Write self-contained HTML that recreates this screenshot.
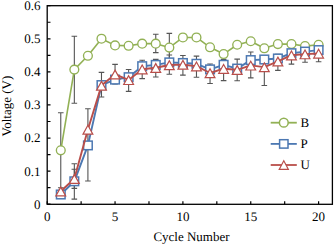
<!DOCTYPE html>
<html><head><meta charset="utf-8"><style>
html,body{margin:0;padding:0;background:#fff;}
body{width:334px;height:245px;overflow:hidden;font-family:"Liberation Serif",serif;}
svg{display:block;} text{text-rendering:geometricPrecision;}
</style></head><body>
<svg width="334" height="245" viewBox="0 0 334 245">
<rect x="0" y="0" width="334" height="245" fill="#fff"/>
<g font-family="Liberation Serif, serif" font-size="13" fill="#000">
<text x="40.5" y="208.60" text-anchor="end">0</text><text x="40.5" y="175.52" text-anchor="end">0.1</text><text x="40.5" y="142.44" text-anchor="end">0.2</text><text x="40.5" y="109.36" text-anchor="end">0.3</text><text x="40.5" y="76.28" text-anchor="end">0.4</text><text x="40.5" y="43.20" text-anchor="end">0.5</text><text x="40.5" y="10.12" text-anchor="end">0.6</text>
<text x="47.20" y="221" text-anchor="middle">0</text><text x="115.05" y="221" text-anchor="middle">5</text><text x="182.90" y="221" text-anchor="middle">10</text><text x="250.75" y="221" text-anchor="middle">15</text><text x="318.60" y="221" text-anchor="middle">20</text>
<text x="191.5" y="241.3" text-anchor="middle">Cycle Number</text>
<text transform="translate(11.2,106.1) rotate(-90)" text-anchor="middle">Voltage (V)</text>
</g>
<path d="M60.77,112.80 V187.80 M57.97,112.80 H63.57 M57.97,187.80 H63.57" stroke="#555555" stroke-width="1.1" fill="none"/><path d="M74.34,36.30 V103.30 M71.54,36.30 H77.14 M71.54,103.30 H77.14" stroke="#555555" stroke-width="1.1" fill="none"/><path d="M155.76,34.20 V52.60 M152.96,34.20 H158.56 M152.96,52.60 H158.56" stroke="#555555" stroke-width="1.1" fill="none"/><path d="M169.33,33.40 V61.80 M166.53,33.40 H172.13 M166.53,61.80 H172.13" stroke="#555555" stroke-width="1.1" fill="none"/><path d="M74.34,163.80 V199.10 M71.54,163.80 H77.14 M71.54,199.10 H77.14" stroke="#555555" stroke-width="1.1" fill="none"/><path d="M74.34,169.20 V188.40 M71.54,169.20 H77.14 M71.54,188.40 H77.14" stroke="#555555" stroke-width="1.1" fill="none"/><path d="M87.91,108.80 V181.00 M85.11,108.80 H90.71 M85.11,181.00 H90.71" stroke="#555555" stroke-width="1.1" fill="none"/><path d="M101.48,72.40 V97.00 M98.68,72.40 H104.28 M98.68,97.00 H104.28" stroke="#555555" stroke-width="1.1" fill="none"/><path d="M115.05,64.40 V84.00 M112.25,64.40 H117.85 M112.25,84.00 H117.85" stroke="#555555" stroke-width="1.1" fill="none"/><path d="M128.62,69.50 V91.40 M125.82,69.50 H131.42 M125.82,91.40 H131.42" stroke="#555555" stroke-width="1.1" fill="none"/><path d="M142.19,60.30 V78.60 M139.39,60.30 H144.99 M139.39,78.60 H144.99" stroke="#555555" stroke-width="1.1" fill="none"/><path d="M155.76,59.40 V77.00 M152.96,59.40 H158.56 M152.96,77.00 H158.56" stroke="#555555" stroke-width="1.1" fill="none"/><path d="M169.33,55.00 V74.20 M166.53,55.00 H172.13 M166.53,74.20 H172.13" stroke="#555555" stroke-width="1.1" fill="none"/><path d="M182.90,55.50 V75.10 M180.10,55.50 H185.70 M180.10,75.10 H185.70" stroke="#555555" stroke-width="1.1" fill="none"/><path d="M196.47,56.10 V77.20 M193.67,56.10 H199.27 M193.67,77.20 H199.27" stroke="#555555" stroke-width="1.1" fill="none"/><path d="M210.04,64.00 V83.50 M207.24,64.00 H212.84 M207.24,83.50 H212.84" stroke="#555555" stroke-width="1.1" fill="none"/><path d="M223.61,59.40 V80.60 M220.81,59.40 H226.41 M220.81,80.60 H226.41" stroke="#555555" stroke-width="1.1" fill="none"/><path d="M237.18,59.10 V80.80 M234.38,59.10 H239.98 M234.38,80.80 H239.98" stroke="#555555" stroke-width="1.1" fill="none"/><path d="M250.75,52.00 V77.90 M247.95,52.00 H253.55 M247.95,77.90 H253.55" stroke="#555555" stroke-width="1.1" fill="none"/><path d="M264.32,56.00 V85.50 M261.52,56.00 H267.12 M261.52,85.50 H267.12" stroke="#555555" stroke-width="1.1" fill="none"/><path d="M277.89,54.30 V70.40 M275.09,54.30 H280.69 M275.09,70.40 H280.69" stroke="#555555" stroke-width="1.1" fill="none"/><path d="M291.46,48.00 V64.10 M288.66,48.00 H294.26 M288.66,64.10 H294.26" stroke="#555555" stroke-width="1.1" fill="none"/><path d="M305.03,47.70 V62.30 M302.23,47.70 H307.83 M302.23,62.30 H307.83" stroke="#555555" stroke-width="1.1" fill="none"/><path d="M318.60,46.80 V61.70 M315.80,46.80 H321.40 M315.80,61.70 H321.40" stroke="#555555" stroke-width="1.1" fill="none"/>
<polyline points="60.77,150.30 74.34,69.60 87.91,55.80 101.48,38.70 115.05,45.40 128.62,45.80 142.19,43.65 155.76,43.65 169.33,47.60 182.90,37.45 196.47,37.45 210.04,47.30 223.61,54.05 237.18,44.75 250.75,41.25 264.32,48.30 277.89,44.10 291.46,44.00 305.03,46.10 318.60,44.80" fill="none" stroke="#92b155" stroke-width="1.6" stroke-linejoin="round"/>
<circle cx="60.77" cy="150.30" r="4.4" fill="#fff" stroke="#92b155" stroke-width="1.35"/><circle cx="74.34" cy="69.60" r="4.4" fill="#fff" stroke="#92b155" stroke-width="1.35"/><circle cx="87.91" cy="55.80" r="4.4" fill="#fff" stroke="#92b155" stroke-width="1.35"/><circle cx="101.48" cy="38.70" r="4.4" fill="#fff" stroke="#92b155" stroke-width="1.35"/><circle cx="115.05" cy="45.40" r="4.4" fill="#fff" stroke="#92b155" stroke-width="1.35"/><circle cx="128.62" cy="45.80" r="4.4" fill="#fff" stroke="#92b155" stroke-width="1.35"/><circle cx="142.19" cy="43.65" r="4.4" fill="#fff" stroke="#92b155" stroke-width="1.35"/><circle cx="155.76" cy="43.65" r="4.4" fill="#fff" stroke="#92b155" stroke-width="1.35"/><circle cx="169.33" cy="47.60" r="4.4" fill="#fff" stroke="#92b155" stroke-width="1.35"/><circle cx="182.90" cy="37.45" r="4.4" fill="#fff" stroke="#92b155" stroke-width="1.35"/><circle cx="196.47" cy="37.45" r="4.4" fill="#fff" stroke="#92b155" stroke-width="1.35"/><circle cx="210.04" cy="47.30" r="4.4" fill="#fff" stroke="#92b155" stroke-width="1.35"/><circle cx="223.61" cy="54.05" r="4.4" fill="#fff" stroke="#92b155" stroke-width="1.35"/><circle cx="237.18" cy="44.75" r="4.4" fill="#fff" stroke="#92b155" stroke-width="1.35"/><circle cx="250.75" cy="41.25" r="4.4" fill="#fff" stroke="#92b155" stroke-width="1.35"/><circle cx="264.32" cy="48.30" r="4.4" fill="#fff" stroke="#92b155" stroke-width="1.35"/><circle cx="277.89" cy="44.10" r="4.4" fill="#fff" stroke="#92b155" stroke-width="1.35"/><circle cx="291.46" cy="44.00" r="4.4" fill="#fff" stroke="#92b155" stroke-width="1.35"/><circle cx="305.03" cy="46.10" r="4.4" fill="#fff" stroke="#92b155" stroke-width="1.35"/><circle cx="318.60" cy="44.80" r="4.4" fill="#fff" stroke="#92b155" stroke-width="1.35"/>
<polyline points="60.77,194.50 74.34,181.30 87.91,145.40 101.48,85.10 115.05,79.60 128.62,77.20 142.19,66.20 155.76,64.90 169.33,62.40 182.90,63.00 196.47,63.80 210.04,69.40 223.61,64.80 237.18,68.60 250.75,60.10 264.32,59.50 277.89,58.50 291.46,53.20 305.03,51.60 318.60,50.10" fill="none" stroke="#4c78b2" stroke-width="1.9" stroke-linejoin="round"/>
<rect x="56.47" y="190.20" width="8.6" height="8.6" fill="#fff" stroke="#4c78b2" stroke-width="1.5"/><rect x="70.04" y="177.00" width="8.6" height="8.6" fill="#fff" stroke="#4c78b2" stroke-width="1.5"/><rect x="83.61" y="141.10" width="8.6" height="8.6" fill="#fff" stroke="#4c78b2" stroke-width="1.5"/><rect x="97.18" y="80.80" width="8.6" height="8.6" fill="#fff" stroke="#4c78b2" stroke-width="1.5"/><rect x="110.75" y="75.30" width="8.6" height="8.6" fill="#fff" stroke="#4c78b2" stroke-width="1.5"/><rect x="124.32" y="72.90" width="8.6" height="8.6" fill="#fff" stroke="#4c78b2" stroke-width="1.5"/><rect x="137.89" y="61.90" width="8.6" height="8.6" fill="#fff" stroke="#4c78b2" stroke-width="1.5"/><rect x="151.46" y="60.60" width="8.6" height="8.6" fill="#fff" stroke="#4c78b2" stroke-width="1.5"/><rect x="165.03" y="58.10" width="8.6" height="8.6" fill="#fff" stroke="#4c78b2" stroke-width="1.5"/><rect x="178.60" y="58.70" width="8.6" height="8.6" fill="#fff" stroke="#4c78b2" stroke-width="1.5"/><rect x="192.17" y="59.50" width="8.6" height="8.6" fill="#fff" stroke="#4c78b2" stroke-width="1.5"/><rect x="205.74" y="65.10" width="8.6" height="8.6" fill="#fff" stroke="#4c78b2" stroke-width="1.5"/><rect x="219.31" y="60.50" width="8.6" height="8.6" fill="#fff" stroke="#4c78b2" stroke-width="1.5"/><rect x="232.88" y="64.30" width="8.6" height="8.6" fill="#fff" stroke="#4c78b2" stroke-width="1.5"/><rect x="246.45" y="55.80" width="8.6" height="8.6" fill="#fff" stroke="#4c78b2" stroke-width="1.5"/><rect x="260.02" y="55.20" width="8.6" height="8.6" fill="#fff" stroke="#4c78b2" stroke-width="1.5"/><rect x="273.59" y="54.20" width="8.6" height="8.6" fill="#fff" stroke="#4c78b2" stroke-width="1.5"/><rect x="287.16" y="48.90" width="8.6" height="8.6" fill="#fff" stroke="#4c78b2" stroke-width="1.5"/><rect x="300.73" y="47.30" width="8.6" height="8.6" fill="#fff" stroke="#4c78b2" stroke-width="1.5"/><rect x="314.30" y="45.80" width="8.6" height="8.6" fill="#fff" stroke="#4c78b2" stroke-width="1.5"/>
<polyline points="60.77,191.30 74.34,178.80 87.91,129.50 101.48,85.60 115.05,74.35 128.62,79.90 142.19,69.20 155.76,67.80 169.33,65.00 182.90,64.60 196.47,66.20 210.04,73.00 223.61,68.70 237.18,69.80 250.75,65.40 264.32,67.10 277.89,61.35 291.46,55.20 305.03,54.15 318.60,53.45" fill="none" stroke="#b94e4a" stroke-width="1.9" stroke-linejoin="round"/>
<path d="M60.77,187.10 L65.67,195.90 L55.87,195.90 Z" fill="#fff" stroke="#b94e4a" stroke-width="1.2" stroke-linejoin="miter"/><path d="M74.34,174.60 L79.24,183.40 L69.44,183.40 Z" fill="#fff" stroke="#b94e4a" stroke-width="1.2" stroke-linejoin="miter"/><path d="M87.91,125.30 L92.81,134.10 L83.01,134.10 Z" fill="#fff" stroke="#b94e4a" stroke-width="1.2" stroke-linejoin="miter"/><path d="M101.48,81.40 L106.38,90.20 L96.58,90.20 Z" fill="#fff" stroke="#b94e4a" stroke-width="1.2" stroke-linejoin="miter"/><path d="M115.05,70.15 L119.95,78.95 L110.15,78.95 Z" fill="#fff" stroke="#b94e4a" stroke-width="1.2" stroke-linejoin="miter"/><path d="M128.62,75.70 L133.52,84.50 L123.72,84.50 Z" fill="#fff" stroke="#b94e4a" stroke-width="1.2" stroke-linejoin="miter"/><path d="M142.19,65.00 L147.09,73.80 L137.29,73.80 Z" fill="#fff" stroke="#b94e4a" stroke-width="1.2" stroke-linejoin="miter"/><path d="M155.76,63.60 L160.66,72.40 L150.86,72.40 Z" fill="#fff" stroke="#b94e4a" stroke-width="1.2" stroke-linejoin="miter"/><path d="M169.33,60.80 L174.23,69.60 L164.43,69.60 Z" fill="#fff" stroke="#b94e4a" stroke-width="1.2" stroke-linejoin="miter"/><path d="M182.90,60.40 L187.80,69.20 L178.00,69.20 Z" fill="#fff" stroke="#b94e4a" stroke-width="1.2" stroke-linejoin="miter"/><path d="M196.47,62.00 L201.37,70.80 L191.57,70.80 Z" fill="#fff" stroke="#b94e4a" stroke-width="1.2" stroke-linejoin="miter"/><path d="M210.04,68.80 L214.94,77.60 L205.14,77.60 Z" fill="#fff" stroke="#b94e4a" stroke-width="1.2" stroke-linejoin="miter"/><path d="M223.61,64.50 L228.51,73.30 L218.71,73.30 Z" fill="#fff" stroke="#b94e4a" stroke-width="1.2" stroke-linejoin="miter"/><path d="M237.18,65.60 L242.08,74.40 L232.28,74.40 Z" fill="#fff" stroke="#b94e4a" stroke-width="1.2" stroke-linejoin="miter"/><path d="M250.75,61.20 L255.65,70.00 L245.85,70.00 Z" fill="#fff" stroke="#b94e4a" stroke-width="1.2" stroke-linejoin="miter"/><path d="M264.32,62.90 L269.22,71.70 L259.42,71.70 Z" fill="#fff" stroke="#b94e4a" stroke-width="1.2" stroke-linejoin="miter"/><path d="M277.89,57.15 L282.79,65.95 L272.99,65.95 Z" fill="#fff" stroke="#b94e4a" stroke-width="1.2" stroke-linejoin="miter"/><path d="M291.46,51.00 L296.36,59.80 L286.56,59.80 Z" fill="#fff" stroke="#b94e4a" stroke-width="1.2" stroke-linejoin="miter"/><path d="M305.03,49.95 L309.93,58.75 L300.13,58.75 Z" fill="#fff" stroke="#b94e4a" stroke-width="1.2" stroke-linejoin="miter"/><path d="M318.60,49.25 L323.50,58.05 L313.70,58.05 Z" fill="#fff" stroke="#b94e4a" stroke-width="1.2" stroke-linejoin="miter"/>
<rect x="47.2" y="5.7" width="285.2" height="198.6" fill="none" stroke="#000" stroke-width="1.3"/>
<path d="M47.2,204.20 h3.3 M47.2,187.66 h3.3 M47.2,171.12 h3.3 M47.2,154.58 h3.3 M47.2,138.04 h3.3 M47.2,121.50 h3.3 M47.2,104.96 h3.3 M47.2,88.42 h3.3 M47.2,71.88 h3.3 M47.2,55.34 h3.3 M47.2,38.80 h3.3 M47.2,22.26 h3.3 M47.2,5.72 h3.3 M47.20,204.2 v-3.0 M81.12,204.2 v-3.0 M115.05,204.2 v-3.0 M148.98,204.2 v-3.0 M182.90,204.2 v-3.0 M216.82,204.2 v-3.0 M250.75,204.2 v-3.0 M284.68,204.2 v-3.0 M318.60,204.2 v-3.0" stroke="#000" stroke-width="1.2" fill="none"/>
<g font-family="Liberation Serif, serif" font-size="13" fill="#000">
<line x1="270.7" y1="122.7" x2="296.8" y2="122.7" stroke="#92b155" stroke-width="1.8"/><circle cx="283.8" cy="122.7" r="4.4" fill="#fff" stroke="#92b155" stroke-width="1.5"/><text x="300.5" y="127.10000000000001">B</text><line x1="270.7" y1="143.9" x2="296.8" y2="143.9" stroke="#4c78b2" stroke-width="1.8"/><rect x="279.6" y="139.70000000000002" width="8.4" height="8.4" fill="#fff" stroke="#4c78b2" stroke-width="1.5"/><text x="300.5" y="148.3">P</text><line x1="270.7" y1="165.0" x2="296.8" y2="165.0" stroke="#b94e4a" stroke-width="1.8"/><path d="M283.8,160.7 L288.40000000000003,169.4 L279.2,169.4 Z" fill="#fff" stroke="#b94e4a" stroke-width="1.15"/><text x="300.5" y="169.4">U</text>
</g>
</svg>
</body></html>
